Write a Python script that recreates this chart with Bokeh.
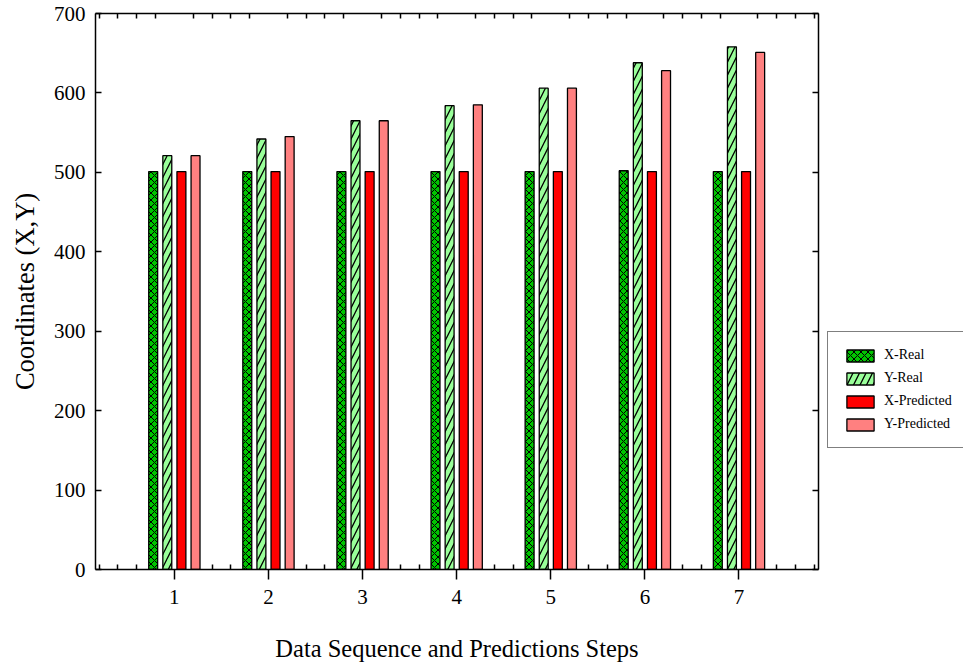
from bokeh.plotting import figure
from bokeh.layouts import row
from bokeh.models import (ColumnDataSource, Range1d, LinearAxis, FixedTicker,
                          Legend, LegendItem)
from bokeh.transform import dodge
from bokeh.embed import file_html
from bokeh.resources import INLINE

# ---- data ----
steps = [1, 2, 3, 4, 5, 6, 7]
x_real = [501, 501, 501, 501, 501, 502, 501]
y_real = [521, 542, 565, 584, 606, 638, 658]
x_predicted = [501, 501, 501, 501, 501, 501, 501]
y_predicted = [521, 545, 565, 585, 606, 628, 651]
y_ticks = [0, 100, 200, 300, 400, 500, 600, 700]
series_names = ["X-Real", "Y-Real", "X-Predicted", "Y-Predicted"]

FONT = "Liberation Serif"

src = ColumnDataSource(dict(step=steps, xr=x_real, yr=y_real,
                            xp=x_predicted, yp=y_predicted))

p = figure(width=826, height=666,
           x_range=Range1d(0.162, 7.845), y_range=Range1d(0, 700),
           output_backend="svg", toolbar_location=None,
           x_axis_type=None, y_axis_type=None,
           min_border_left=95, min_border_right=8,
           min_border_top=13, min_border_bottom=97)
p.outline_line_color = None
p.background_fill_color = "white"
p.border_fill_color = "white"

# minor tick positions every 0.2 between integers
all_minor = [round(i * 0.2, 1) for i in range(1, 40) if i % 5 != 0]
bottom_minor = [v for v in all_minor
                if abs(v - round(v)) > 0.25 or v < 0.5 or v > 7.5]

def style_axis(ax):
    ax.axis_line_color = "black"
    ax.axis_line_width = 1.5
    ax.major_tick_line_color = "black"
    ax.major_tick_line_width = 1.5
    ax.minor_tick_line_color = "black"
    ax.minor_tick_line_width = 1.5
    ax.major_label_text_font = FONT
    ax.major_label_text_font_size = "21px"
    ax.major_label_text_color = "black"
    ax.axis_label_text_font = FONT
    ax.axis_label_text_font_size = "24.5px"
    ax.axis_label_text_font_style = "normal"
    ax.axis_label_text_color = "black"

def hide_labels(ax, ticks):
    ax.major_label_overrides = {t: "" for t in ticks}
    ax.major_label_text_color = None
    ax.major_label_standoff = 0

bottom = LinearAxis(ticker=FixedTicker(ticks=steps, minor_ticks=bottom_minor),
                    axis_label="Data Sequence and Predictions Steps")
style_axis(bottom)
bottom.major_tick_in = 0
bottom.major_tick_out = 10
bottom.minor_tick_in = 5
bottom.minor_tick_out = 0
bottom.major_label_standoff = 10
bottom.axis_label_standoff = 28
p.add_layout(bottom, "below")

left = LinearAxis(ticker=FixedTicker(ticks=y_ticks, minor_ticks=[]),
                  axis_label="Coordinates (X,Y)")
style_axis(left)
left.axis_label_text_font_size = "26.5px"
left.major_tick_in = 6
left.major_tick_out = 0
left.minor_tick_in = 0
left.minor_tick_out = 0
left.major_label_standoff = 10
left.axis_label_standoff = 11
p.add_layout(left, "left")

top = LinearAxis(ticker=FixedTicker(ticks=[], minor_ticks=all_minor))
style_axis(top)
top.major_tick_in = 0
top.major_tick_out = 0
top.minor_tick_in = 5
top.minor_tick_out = 0
hide_labels(top, [])
p.add_layout(top, "above")

right = LinearAxis(ticker=FixedTicker(ticks=y_ticks, minor_ticks=[]))
style_axis(right)
right.major_tick_in = 6
right.major_tick_out = 0
right.minor_tick_in = 0
right.minor_tick_out = 0
hide_labels(right, y_ticks)
p.add_layout(right, "right")

# ---- bars ----
bar_w = 0.095
specs = [
    ("xr", -0.225, "#00c400", "diagonal_cross", 7, 1.0),
    ("yr", -0.075, "#99ff99", "right_diagonal_line", 13, 1.3),
    ("xp", 0.075, "#ff0000", None, None, None),
    ("yp", 0.225, "#ff8080", None, None, None),
]

def bars(fig, visible=True):
    out = []
    for col, off, color, hatch, hscale, hweight in specs:
        kw = dict(x=dodge("step", off, range=fig.x_range), top=col, bottom=0,
                  width=bar_w, source=src, fill_color=color,
                  line_color="black", line_width=1.3)
        if hatch:
            kw.update(hatch_pattern=hatch, hatch_color="black",
                      hatch_scale=hscale, hatch_weight=hweight)
        r = fig.vbar(**kw)
        r.visible = visible
        out.append(r)
    return out

bars(p)

# ---- legend panel (a narrow figure to the right of the plot) ----
p2 = figure(width=137, height=666,
            x_range=Range1d(0.162, 7.845), y_range=Range1d(0, 700),
            output_backend="svg", toolbar_location=None,
            x_axis_type=None, y_axis_type=None,
            min_border=0, min_border_left=0, min_border_right=0,
            min_border_top=0, min_border_bottom=0)
p2.outline_line_color = None
p2.background_fill_color = "white"
p2.border_fill_color = "white"
legend_renderers = bars(p2, visible=False)

legend = Legend(
    items=[LegendItem(label=n, renderers=[r]) for n, r in zip(series_names, legend_renderers)],
    location=(1, 121),
    glyph_width=34, glyph_height=15, label_standoff=7,
    padding=15, spacing=7, margin=0,
    border_line_color="black", border_line_width=1.5,
    label_text_font=FONT, label_text_font_size="14px",
    label_text_color="black",
    background_fill_color="white", background_fill_alpha=1.0,
    inactive_fill_alpha=0.0,
)
p2.add_layout(legend, "center")

layout = row(p, p2, spacing=0)
open("out.html", "w").write(file_html(layout, INLINE))
